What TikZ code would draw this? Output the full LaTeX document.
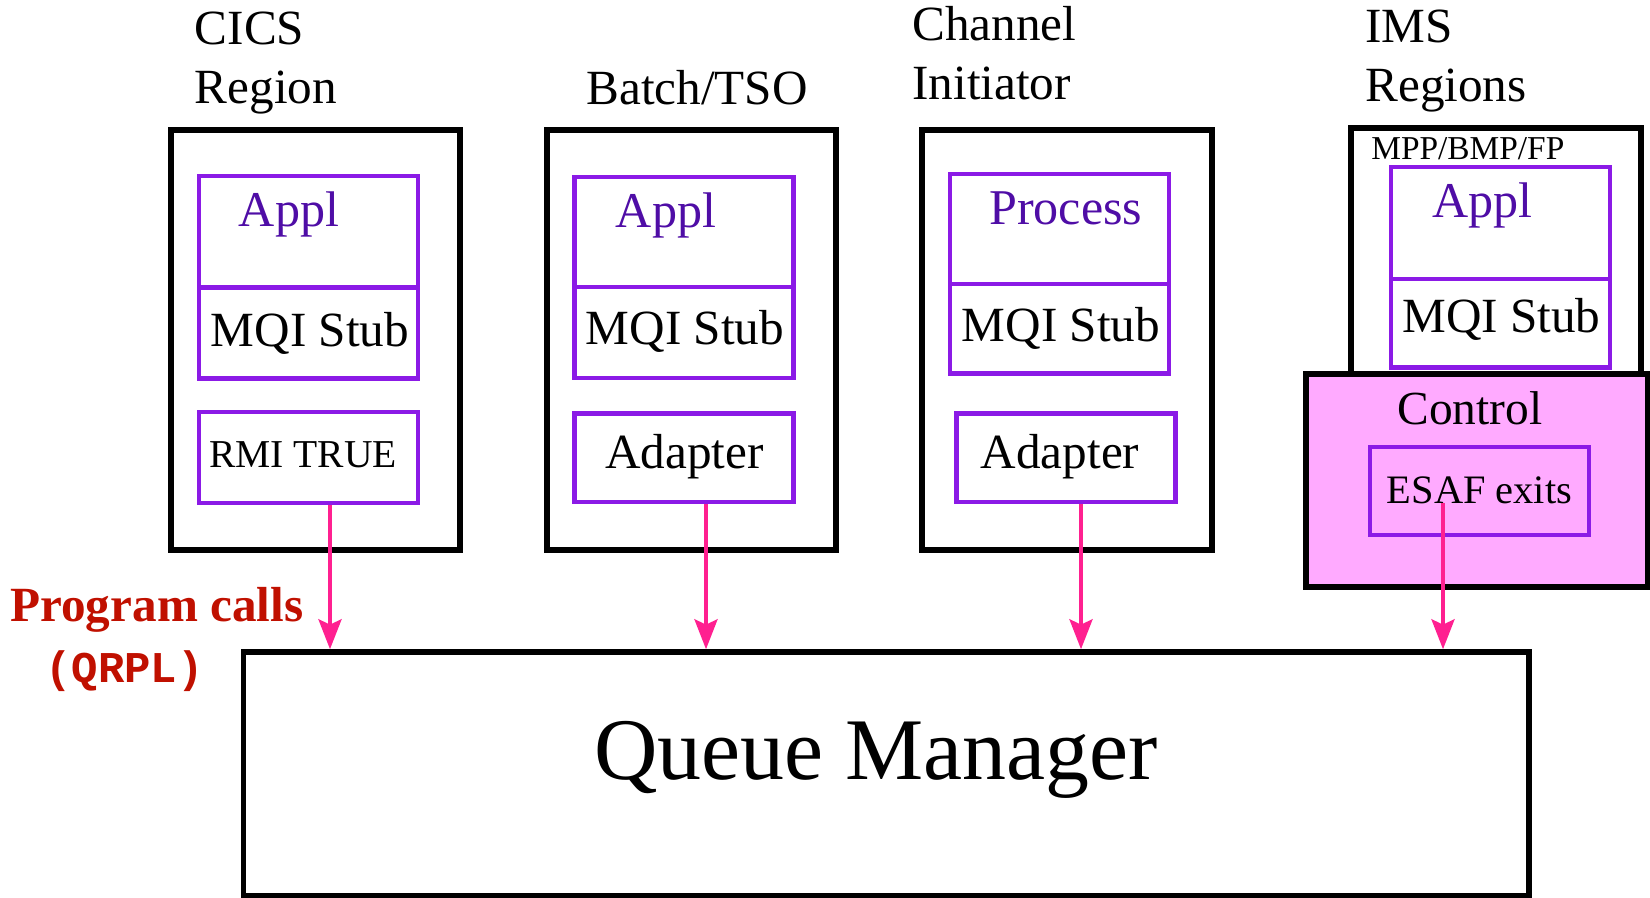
\documentclass[tikz,border=0pt]{standalone}
\usepackage{fontspec}
\setmainfont{Liberation Serif}
\setmonofont{Liberation Mono}
\usetikzlibrary{arrows.meta, positioning, fit}
\definecolor{qviolet}{HTML}{8B1AE6}
\definecolor{qappl}{HTML}{4F0DA6}
\definecolor{qpink}{HTML}{FFAAFF}
\definecolor{qarrow}{HTML}{FF2090}
\definecolor{qred}{HTML}{C01000}

\begin{document}
\begin{tikzpicture}[x=0.02cm, y=-0.02cm,
  region/.style={draw=black, line width=3.1pt, inner sep=0pt},
  pbox/.style={draw=qviolet, line width=2.5pt, inner sep=0pt},
  title/.style={font=\fontsize{28}{33.6}\selectfont, align=left, anchor=base west, inner sep=0pt},
  appl/.style={font=\fontsize{28.5}{34}\selectfont, text=qappl, anchor=base west, inner sep=0pt},
  stub/.style={font=\fontsize{28}{34}\selectfont, anchor=base, inner sep=0pt},
  call/.style={draw=qarrow, line width=2.6pt, -{Stealth[length=17pt, width=13pt, inset=3pt]}}
]
  \useasboundingbox (0,0) rectangle (1650,898);

  %% Region titles (base = last line)
  \node[title] (tcics) at (194.6,103.6) {CICS\\Region};
  \node[title] (tbatch) at (586,105) {Batch/TSO};
  \node[title] (tchin) at (912,100) {Channel\\Initiator};
  \node[title] (tims) at (1365,102) {IMS\\Regions};

  %% CICS region
  \node[region, fit={(171,130)(460,550)}] (cics) {};
  \node[pbox, fit={(199,176)(418,287.5)}] (cappl) {};
  \node[pbox, fit={(199,287.5)(418,378.5)}] (cstub) {};
  \node[pbox, fit={(199,412)(418,503)}] (crmi) {};
  \node[appl] at (238.5,227) {Appl};
  \node[stub] at (310,346.5) {MQI Stub};
  \node[stub, font=\fontsize{22.5}{27}\selectfont] at (303,467) {RMI TRUE};

  %% Batch/TSO
  \node[region, fit={(547,130)(836,550)}] (batch) {};
  \node[pbox, fit={(574.5,177)(793.5,287)}] (bappl) {};
  \node[pbox, fit={(574.5,287)(793.5,378)}] (bstub) {};
  \node[pbox, fit={(574.5,413.5)(793.5,502)}] (badapt) {};
  \node[appl] at (615.6,228) {Appl};
  \node[stub] at (685,345) {MQI Stub};
  \node[stub] at (684.5,468) {Adapter};

  %% Channel initiator
  \node[region, fit={(922,130)(1212,550)}] (chin) {};
  \node[pbox, fit={(950,174)(1169,284)}] (chproc) {};
  \node[pbox, fit={(950,284)(1169,373.5)}] (chstub) {};
  \node[pbox, fit={(956.5,413.5)(1175.5,502)}] (chadapt) {};
  \node[appl] at (989,225) {Process};
  \node[stub] at (1061,342) {MQI Stub};
  \node[stub] at (1060,468) {Adapter};

  %% IMS regions
  \node[region, fit={(1351,128)(1641,374)}] (ims) {};
  \node[anchor=base west, inner sep=0pt, font=\fontsize{19}{22}\selectfont] at (1371,160) {MPP/BMP/FP};
  \node[pbox, fit={(1391,167)(1610,279)}] (iappl) {};
  \node[pbox, fit={(1391,279)(1610,367.5)}] (istub) {};
  \node[appl] at (1432,218) {Appl};
  \node[stub] at (1501.5,332.5) {MQI Stub};
  \node[region, fill=qpink, fit={(1306,374)(1648,587)}] (ctrl) {};
  \node[stub, font=\fontsize{27}{32}\selectfont] at (1470,424) {Control};
  \node[pbox, fit={(1370,447)(1589,535)}] (esaf) {};
  \node[stub, font=\fontsize{23}{28}\selectfont] at (1479.5,503) {ESAF exits};

  %% Queue manager
  \node[region, fit={(243.5,652)(1529,895.5)}] (qm) {};
  \node[stub, font=\fontsize{50}{60}\selectfont] at (876,779) {Queue Manager};

  %% Program calls
  \node[anchor=base west, inner sep=0pt, text=qred, font=\fontsize{28}{34}\selectfont\bfseries] (pc) at (10,621) {Program calls};
  \node[anchor=base west, inner sep=0pt, text=qred, font=\fontsize{25}{30}\selectfont\ttfamily\bfseries] (qrpl) at (45,682) {(QRPL)};

  \coordinate (ca) at (330,0);
  \coordinate (ba) at (706,0);
  \coordinate (cha) at (1081,0);
  \coordinate (ia) at (1443,503);
  \draw[call] (crmi.south -| ca) -- (ca |- qm.north);
  \draw[call] (badapt.south -| ba) -- (ba |- qm.north);
  \draw[call] (chadapt.south -| cha) -- (cha |- qm.north);
  \draw[call] (ia) -- (ia |- qm.north);

\end{tikzpicture}
\end{document}
